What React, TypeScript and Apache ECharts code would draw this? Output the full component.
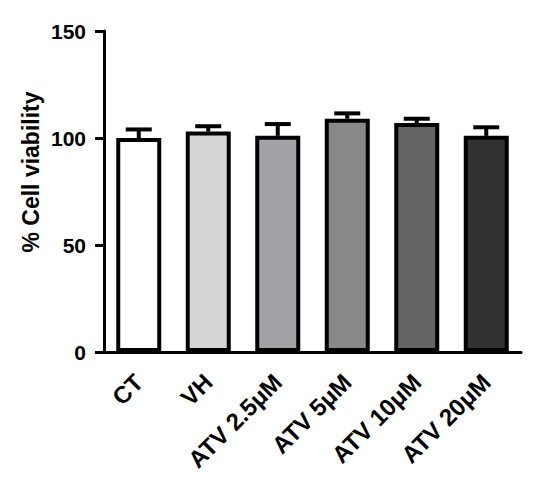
import React, { useEffect, useRef } from "react";
import * as echarts from "echarts";

const categories = ["CT", "VH", "ATV 2.5μM", "ATV 5μM", "ATV 10μM", "ATV 20μM"];
const viability = [100, 103, 101, 109, 107, 101];
const sem = [4, 2.5, 5.5, 2.5, 2, 4];
const barColors = ["#ffffff", "#d4d4d4", "#a2a2a6", "#888888", "#646464", "#323232"];
const yTicks = [0, 50, 100, 150];
const yTitle = "% Cell viability";

export default function App() {
  const ref = useRef<HTMLDivElement>(null);
  useEffect(() => {
    if (!ref.current) return;
    const chart = echarts.init(ref.current, undefined, { renderer: "svg" });
    const font = "Arial, 'Liberation Sans', sans-serif";
    chart.setOption({
      animation: false,
      grid: { left: 104, right: 29, top: 31, bottom: 140 },
      graphic: [
        {
          type: "text",
          x: 31,
          y: 172,
          rotation: Math.PI / 2,
          style: {
            text: yTitle,
            fill: "#000",
            font: `bold 23px ${font}`,
            textAlign: "center",
            textVerticalAlign: "middle",
          },
        },
      ],
      xAxis: {
        type: "category",
        data: categories,
        axisLine: { lineStyle: { color: "#000", width: 3 } },
        axisTick: { alignWithLabel: true, length: 9, lineStyle: { color: "#000", width: 3 } },
        axisLabel: {
          rotate: 45,
          color: "#000",
          fontWeight: "bold",
          fontSize: 24,
          fontFamily: font,
          margin: 26,
          interval: 0,
        },
      },
      yAxis: {
        type: "value",
        min: yTicks[0],
        max: yTicks[yTicks.length - 1],
        interval: 50,
        axisLine: { show: true, lineStyle: { color: "#000", width: 3 } },
        axisTick: { show: true, length: 9, lineStyle: { color: "#000", width: 3 } },
        axisLabel: { color: "#000", fontWeight: "bold", fontSize: 21, fontFamily: font, margin: 18 },
        splitLine: { show: false },
      },
      series: [
        {
          type: "bar",
          barWidth: 45,
          data: viability.map((v, i) => ({
            value: v,
            itemStyle: { color: barColors[i], borderColor: "#000", borderWidth: 4 },
          })),
          z: 2,
        },
        {
          type: "custom",
          z: 3,
          data: viability.map((v, i) => [i, v, v + sem[i]]),
          renderItem: (params: any, api: any) => {
            const x = api.value(0);
            const base = api.coord([x, api.value(1)]);
            const top = api.coord([x, api.value(2)]);
            const half = 13;
            return {
              type: "group",
              children: [
                {
                  type: "line",
                  shape: { x1: base[0], y1: base[1], x2: top[0], y2: top[1] },
                  style: { stroke: "#000", lineWidth: 4 },
                },
                {
                  type: "line",
                  shape: { x1: top[0] - half, y1: top[1], x2: top[0] + half, y2: top[1] },
                  style: { stroke: "#000", lineWidth: 4 },
                },
              ],
            };
          },
        },
      ],
    });
    return () => chart.dispose();
  }, []);
  return (
    <div
      ref={ref}
      style={{ position: "absolute", left: 0, top: 0, width: 550, height: 492 }}
    />
  );
}
